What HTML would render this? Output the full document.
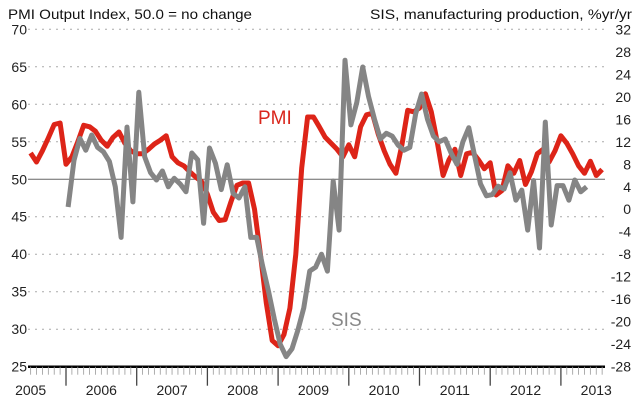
<!DOCTYPE html>
<html><head><meta charset="utf-8"><style>
html,body{margin:0;padding:0;background:#fff;}
svg{display:block;font-family:"Liberation Sans",Arial,sans-serif;}
</style></head><body>
<svg id="chart" width="640" height="402" viewBox="0 0 640 402" xmlns="http://www.w3.org/2000/svg">
<text x="8" y="19" font-size="14" textLength="244" lengthAdjust="spacingAndGlyphs" fill="#111">PMI Output Index, 50.0 = no change</text>
<text x="632" y="19" font-size="14" text-anchor="end" textLength="262" lengthAdjust="spacingAndGlyphs" fill="#111">SIS, manufacturing production, %yr/yr</text>
<g id="grid"></g><g id="axes"></g><g id="series"></g>
<text x="258" y="124" font-size="19" fill="#d9261c">PMI</text>
<text x="331" y="326" font-size="19" fill="#888">SIS</text>
</svg>
<script>
const leftTicks=[25,30,35,40,45,50,55,60,65,70];
const rightTicks=[-28,-24,-20,-16,-12,-8,-4,0,4,8,12,16,20,24,28,32];
const years=["2005","2006","2007","2008","2009","2010","2011","2012","2013"];
const pmiStart=2005.5;
const pmi=[53.5,52.3,53.8,55.5,57.3,57.5,52,53,55,57.2,57,56.4,55.2,54.4,55.6,56.3,54.8,53.8,53.4,53.4,54,54.7,55.2,55.8,53,52.2,51.8,51,50.3,49.7,48,45.6,44.5,44.6,47,49.2,49.5,49.5,46,40,33.5,28.5,27.8,29.3,32.8,40,51.5,58.3,58.3,57,55.6,54.8,54,53,54.6,53,57,58.6,58.8,56,53.8,52,50.8,54.5,59.2,59,59.5,61.4,59,55,50.5,52.6,54,50.5,53.4,53.6,52.6,51.4,52.2,47.9,48.5,51.8,50.8,52.5,49.3,51,53.4,54,52.3,53.8,55.8,54.8,53.4,51.8,50.8,52.4,50.5,51.3];
const sisStart=2006.03;
const sis=[0.4,8.7,12.6,10.5,13.2,11,10.2,8.5,4,-5,14.6,1.3,20.8,9.3,6.5,5.2,6.8,4,5.5,4.5,3.1,10,8.8,-2.5,10.9,8.2,3.5,7.9,2.8,2,4,-5,-5,-10,-14.5,-19.5,-24,-26.2,-24.8,-21.5,-17.5,-11,-10.3,-8,-11,5,-3.7,26.5,15,19,25.3,20,16,12.5,13.5,13,11.4,10.5,11,17,20.5,16,13,12,12.5,10,8,12,14.5,9.5,4.5,2.4,2.6,4.1,3.6,6.5,1.6,3.4,-3.7,5.1,-6.9,15.5,-2.8,4.2,4.2,1.6,5.2,3.1,4];

const NS="http://www.w3.org/2000/svg";
const X0=28,X1=605,YT=29.3,YB=366.7,PX_YEAR=70.7,X2006=66;
function xs(t){return X2006+(t-2006)*PX_YEAR;}
function yL(v){return YB-(v-25)/45*(YB-YT);}
function yR(v){return YB-(v+28)/60*(YB-YT);}
function mk(tag,parent){const e=document.createElementNS(NS,tag);document.getElementById(parent).appendChild(e);return e;}

leftTicks.forEach(v=>{
  if(v>25 && v!==50){const l=mk('line','grid');
  
  
  l.setAttribute('x1',X0);l.setAttribute('x2',X1);l.setAttribute('y1',yL(v));l.setAttribute('y2',yL(v));
  l.setAttribute('stroke','#aaa');l.setAttribute('stroke-width','1');l.setAttribute('stroke-dasharray','2,5');}
  const t=mk('text','axes');
  
  
  t.setAttribute('x',27);t.setAttribute('y',yL(v)+5);t.setAttribute('text-anchor','end');t.setAttribute('font-size','14');t.setAttribute('fill','#222');
  t.textContent=v;
});
const zl=mk('line','grid');


zl.setAttribute('x1',X0);zl.setAttribute('x2',X1);zl.setAttribute('y1',yL(50));zl.setAttribute('y2',yL(50));zl.setAttribute('stroke','#666');zl.setAttribute('stroke-width','1');
rightTicks.forEach(v=>{
  const t=mk('text','axes');
  
  
  t.setAttribute('x',631);t.setAttribute('y',yR(v)+5);t.setAttribute('text-anchor','end');t.setAttribute('font-size','14');t.setAttribute('fill','#222');
  t.textContent=v;
});
// x axis
const ax=mk('line','axes');


ax.setAttribute('x1',X0);ax.setAttribute('x2',X1);ax.setAttribute('y1',YB);ax.setAttribute('y2',YB);ax.setAttribute('stroke','#000');ax.setAttribute('stroke-width','2.5');
for(let m=-12;m<=96;m++){
  const x=xs(2006+m/12);if(x<X0||x>X1)continue;
  const major=(m%12===0);
  const l=mk('line','axes');
  
  
  l.setAttribute('x1',x);l.setAttribute('x2',x);l.setAttribute('y1',YB);l.setAttribute('y2',major?YB+19:YB+8);
  l.setAttribute('stroke',major?'#444':'#999');l.setAttribute('stroke-width',major?'1.3':'0.8');
}
years.forEach((y,i)=>{
  const t=mk('text','axes');
  
  
  t.setAttribute('x',xs(+y+0.5));t.setAttribute('y',395);t.setAttribute('text-anchor','middle');t.setAttribute('font-size','14');t.setAttribute('fill','#222');
  t.textContent=y;
});
function path(arr,start,yf,color,name){
  const d=arr.map((v,i)=>(i?'L':'M')+xs(start+i/12).toFixed(1)+','+yf(v).toFixed(1)).join('');
  const p=mk('path','series');
  
  
  p.setAttribute('d',d);p.setAttribute('fill','none');p.setAttribute('stroke',color);p.setAttribute('stroke-width','5');p.setAttribute('stroke-linejoin','round');
}
path(pmi,pmiStart,yL,'#dd2418','pmi-line');
path(sis,sisStart,yR,'#858585','sis-line');
</script>
</body></html>
